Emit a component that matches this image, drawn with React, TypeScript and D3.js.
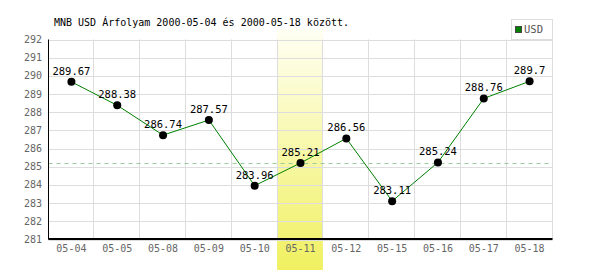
import React from "react";
import * as d3 from "d3";

const categories = ["05-04", "05-05", "05-08", "05-09", "05-10", "05-11", "05-12", "05-15", "05-16", "05-17", "05-18"];
const values = [289.67, 288.38, 286.74, 287.57, 283.96, 285.21, 286.56, 283.11, 285.24, 288.76, 289.7];
const yTicks = [281, 282, 283, 284, 285, 286, 287, 288, 289, 290, 291, 292];
const referenceValue = 285.2;
const highlighted = "05-11";
const title = "MNB USD Árfolyam 2000-05-04 és 2000-05-18 között.";
const seriesName = "USD";

export default function App() {
  const W = 600, H = 270;
  const left = 48.5, right = 552.5, top = 39.5, bottom = 239.5;
  const x = d3.scaleBand<string>().domain(categories).range([left, right]);
  const y = d3.scaleLinear().domain([281, 292]).range([bottom, top]);
  const line = d3.line<number>()
    .x((_, i) => (x(categories[i]) as number) + x.bandwidth() / 2)
    .y((v) => y(v));
  const font = "'DejaVu Sans Mono', monospace";
  const hx = x(highlighted) as number;
  return (
    <svg width={W} height={H} style={{ position: "absolute", left: 0, top: 0 }} xmlns="http://www.w3.org/2000/svg">
      <defs>
        <linearGradient id="hl" x1="0" y1="0" x2="0" y2="1">
          <stop offset="0%" stopColor="#fffff4" />
          <stop offset="100%" stopColor="#f0f060" />
        </linearGradient>
      </defs>
      <rect x={0} y={0} width={W} height={H} fill="#ffffff" />
      <rect x={hx - 0.5} y={29} width={x.bandwidth()} height={H - 29} fill="url(#hl)" />
      {yTicks.map((t) => (
        <line key={"h" + t} x1={left} x2={right} y1={Math.round(y(t)) + 0.5} y2={Math.round(y(t)) + 0.5} stroke="#dddddd" strokeWidth={1} />
      ))}
      {categories.map((c) => (
        <line key={"v" + c} x1={Math.round((x(c) as number) + x.bandwidth()) - 0.5} x2={Math.round((x(c) as number) + x.bandwidth()) - 0.5} y1={top} y2={bottom} stroke="#dddddd" strokeWidth={1} />
      ))}
      <line x1={left} x2={right} y1={Math.round(y(referenceValue)) + 0.5} y2={Math.round(y(referenceValue)) + 0.5} stroke="#99cc99" strokeWidth={1} strokeDasharray="4,4" />
      <line x1={left} x2={left} y1={top} y2={bottom} stroke="#000" strokeWidth={1} />
      <line x1={left} x2={right} y1={bottom - 0.5} y2={bottom - 0.5} stroke="#000" strokeWidth={2} />
      {yTicks.map((t) => (
        <text key={"yl" + t} x={42} y={y(t) + 3.5} textAnchor="end" fontFamily={font} fontSize={10} fill="#666666">{t}</text>
      ))}
      {categories.map((c) => (
        <text key={"xl" + c} x={(x(c) as number) + x.bandwidth() / 2} y={252} textAnchor="middle" fontFamily={font} fontSize={10} fill="#666666">{c}</text>
      ))}
      <path d={line(values) || ""} fill="none" stroke="#008000" strokeWidth={1} />
      {values.map((v, i) => {
        const cx = (x(categories[i]) as number) + x.bandwidth() / 2;
        return (
          <g key={"p" + i}>
            <circle cx={cx} cy={y(v)} r={4} fill="#000" />
            <text x={cx} y={y(v) - 7} textAnchor="middle" fontFamily={font} fontSize={10.5} fill="#000">{String(v)}</text>
          </g>
        );
      })}
      <text x={54} y={26} fontFamily={font} fontSize={10} fill="#000">{title}</text>
      <rect x={511.5} y={19.5} width={41} height={20} fill="#fff" stroke="#dddddd" strokeWidth={1} />
      <rect x={515.5} y={26.5} width={6} height={6} fill="#008000" stroke="#444" strokeWidth={1} />
      <text x={524} y={33} fontFamily={font} fontSize={10.5} fill="#555555">{seriesName}</text>
    </svg>
  );
}
